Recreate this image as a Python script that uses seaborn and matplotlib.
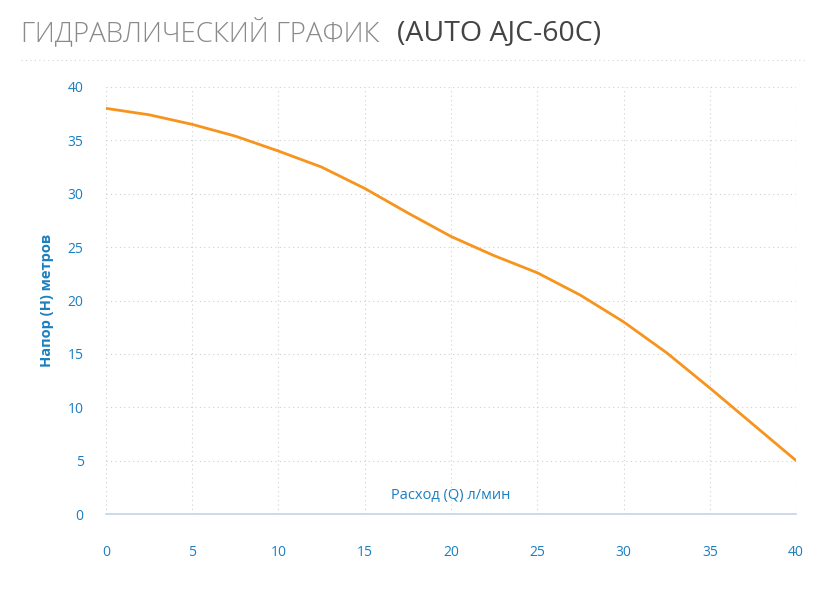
import matplotlib
matplotlib.use("Agg")
import matplotlib.pyplot as plt
import seaborn as sns
import pandas as pd

flow = [0, 2.5, 5, 7.5, 10, 12.5, 15, 17.5, 20, 22.5, 25, 27.5, 30, 32.5, 35, 37.5, 40]
head = [38.0, 37.4, 36.5, 35.4, 34.0, 32.5, 30.5, 28.2, 26.0, 24.2, 22.6, 20.5, 18.0, 15.1, 11.8, 8.4, 5.0]
xticks = [0, 5, 10, 15, 20, 25, 30, 35, 40]
yticks = [0, 5, 10, 15, 20, 25, 30, 35, 40]

sns.set_theme(style="white")
plt.rcParams['font.family'] = ['Open Sans', 'DejaVu Sans']
blue = "#1a7fc1"

fig = plt.figure(figsize=(8.27, 6), dpi=100)
ax = fig.add_axes([0.128, 0.1433, 0.8347, 0.7117])
df = pd.DataFrame({"Q": flow, "H": head})
sns.lineplot(data=df, x="Q", y="H", ax=ax, color="#f7941d", linewidth=2)
ax.set_xlim(0, 40)
ax.set_ylim(0, 40)
ax.set_xticks(xticks)
ax.set_yticks(yticks)
ax.grid(True, linestyle=(0, (1, 3)), color="#d0d0d0", linewidth=0.8)
for s in ["top", "right", "left"]:
    ax.spines[s].set_visible(False)
ax.spines["bottom"].set_color("#c5d5e8")
ax.tick_params(axis="x", colors=blue, labelsize=10, pad=22, length=0)
ax.tick_params(axis="y", colors=blue, labelsize=10, pad=16, length=0)
ax.set_xlabel("")
ax.set_ylabel("Напор (H) метров", color=blue, fontsize=10.5, fontweight="bold", labelpad=10)
ax.text(20, 1.0, "Расход (Q) л/мин", color=blue, fontsize=10.5, ha="center", va="bottom")

fig.text(0.025, 0.945, "ГИДРАВЛИЧЕСКИЙ ГРАФИК", color="#8a8a8a", fontsize=20, va="center", fontweight="light")
fig.text(0.48, 0.945, "(AUTO AJC-60C)", color="#444444", fontsize=20.5, va="center")
fig.add_artist(plt.Line2D([0.025, 0.975], [0.9, 0.9], color="#d5d5d5", linestyle=(0, (1, 3)), linewidth=0.8))

fig.savefig("out.png", dpi=100)
